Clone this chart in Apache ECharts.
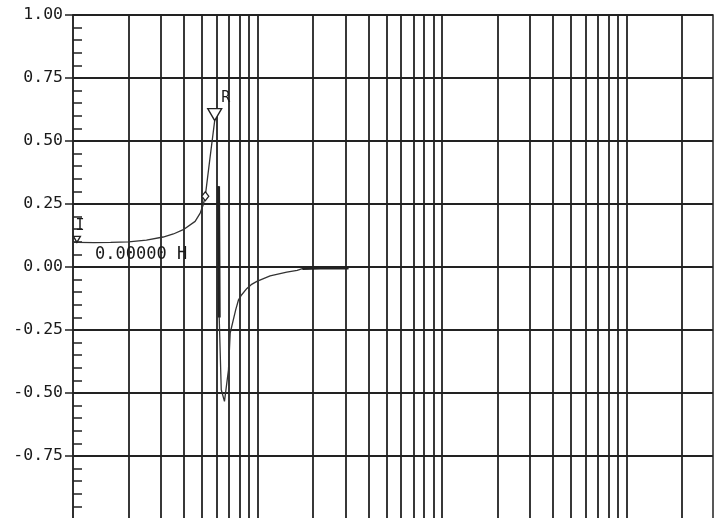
<!DOCTYPE html>
<html>
<head>
<meta charset="utf-8">
<script src="https://cdn.jsdelivr.net/npm/echarts@6/dist/echarts.min.js"></script>
<style>
  html, body { margin: 0; padding: 0; background: #ffffff; }
  #chart { width: 720px; height: 518px; }
</style>
</head>
<body>
<div id="chart"></div>
<script>
// Sweep response (log frequency axis, linear response axis)
const freq = [1.0, 1.05, 1.3, 1.6, 2.0, 2.5, 3.08, 3.5, 3.96, 4.59, 4.89, 5.08, 5.21, 5.54, 5.86,
              6.0,
              6.15, 6.2, 6.36, 6.62, 6.96, 7.11, 7.62, 7.89, 8.21, 8.76, 9.24, 9.92, 11.7, 14.4, 16.4, 17.5, 22.0, 31.1];
const resp = [0.098, 0.098, 0.097, 0.098, 0.100, 0.107, 0.119, 0.131, 0.148, 0.181, 0.214, 0.247, 0.281, 0.439, 0.581,
              null,
              0.32, -0.20, -0.487, -0.533, -0.408, -0.262, -0.169, -0.130, -0.110, -0.085, -0.070, -0.057, -0.035, -0.020, -0.013, -0.006, -0.004, -0.004];

// Stretches of the sweep that were traced more than once (drawn heavier)
const heavyRanges = [[6.15, 6.2], [17.5, 31.1]];

// Markers placed on sweep points
const markerNames = ['I', 'R', ''];
const markerFreq = [1.05, 5.86, 5.21];
const markerKind = ['tri-small', 'tri', 'diamond'];

// Axis ranges and tick labels
const xMin = 1, xMax = 2940;
const yTicks = ['-1.00', '-0.75', '-0.50', '-0.25', '0.00', '0.25', '0.50', '0.75', '1.00'];
const decades = [1, 10, 100, 1000];
const mantissas = [1, 2, 3, 4, 5, 6, 7, 8, 9];

// Readout text
const readout = '0.00000 H';

const INK = '#222222';
const MONO = '"DejaVu Sans Mono", "Liberation Mono", monospace';

const curveData = freq.map((f, i) => [f, resp[i] === null ? '-' : resp[i]]);

const heavyData = [];
heavyRanges.forEach(([a, b], k) => {
  if (k > 0) heavyData.push([(heavyRanges[k - 1][1] + a) / 2, '-']);
  freq.forEach((f, i) => { if (f >= a && f <= b && resp[i] !== null) heavyData.push([f, resp[i]]); });
});

const gridFreqs = [];
decades.forEach(d => mantissas.forEach(m => {
  const v = d * m;
  if (v > xMin && v < xMax) gridFreqs.push(v);
}));

const TRI = 'path://M0,0 L14,0 L7,12 Z';
const markerData = markerFreq.map((f, i) => {
  const v = resp[freq.indexOf(f)];
  const kind = markerKind[i];
  const item = { name: markerNames[i], value: [f, v] };
  if (kind === 'tri') {
    item.symbol = TRI; item.symbolSize = [14, 12]; item.symbolOffset = [0, -6];
    item.label = { show: true, position: 'top', offset: [11, 1] };
  } else if (kind === 'tri-small') {
    item.symbol = TRI; item.symbolSize = [7, 6]; item.symbolOffset = [0, -3];
    item.label = { show: true, position: 'top', offset: [3, 1] };
  } else {
    item.symbol = 'diamond'; item.symbolSize = [7, 9];
    item.label = { show: false };
  }
  return item;
});

const chart = echarts.init(document.getElementById('chart'), null, { renderer: 'canvas' });

chart.setOption({
  animation: false,
  backgroundColor: '#ffffff',
  grid: {
    left: 73, top: 15, width: 640, height: 504,
    containLabel: false, outerBoundsMode: 'none',
    show: true, borderColor: INK, borderWidth: 1.5, backgroundColor: 'transparent'
  },
  xAxis: {
    type: 'log', logBase: 10, min: xMin, max: xMax,
    axisLine: { show: false }, axisTick: { show: false },
    axisLabel: { show: false }, splitLine: { show: false }
  },
  yAxis: [
    {
      type: 'value', min: -1, max: 1, interval: 0.25, position: 'left',
      axisLine: { show: true, lineStyle: { color: INK, width: 1.5 } },
      axisTick: { show: true, inside: false, length: 8, lineStyle: { color: INK, width: 1.5 } },
      axisLabel: {
        margin: 10, color: '#1a1a1a', fontFamily: MONO, fontSize: 16.5,
        showMinLabel: false,
        formatter: v => yTicks[Math.round((v + 1) / 0.25)]
      },
      splitLine: { show: true, lineStyle: { color: INK, width: 1.8 } }
    },
    {
      type: 'value', min: -1, max: 1, interval: 0.05, position: 'left', offset: 0,
      axisLine: { show: false },
      axisTick: { show: true, inside: true, length: 9, lineStyle: { color: INK, width: 1.5 } },
      axisLabel: { show: false },
      splitLine: { show: false }
    }
  ],
  graphic: [{
    type: 'text', left: 95, top: 246, z: 10,
    style: { text: readout, fill: '#1a1a1a', font: '17px ' + MONO }
  }],
  series: [
    {
      name: 'grid', type: 'line', data: [], silent: true,
      markLine: {
        silent: true, symbol: ['none', 'none'], animation: false,
        label: { show: false },
        lineStyle: { color: INK, width: 1.8, type: 'solid' },
        data: gridFreqs.map(f => ({ xAxis: f }))
      }
    },
    {
      name: 'response', type: 'line', data: curveData, showSymbol: false,
      connectNulls: false, z: 5,
      lineStyle: { color: '#333', width: 1.3 }
    },
    {
      name: 'response-heavy', type: 'line', data: heavyData, showSymbol: false,
      connectNulls: false, z: 5,
      lineStyle: { color: '#222', width: 3 }
    },
    {
      name: 'markers', type: 'scatter', data: markerData, z: 6,
      itemStyle: { color: '#ffffff', borderColor: '#222', borderWidth: 1.3, opacity: 1 },
      label: { color: '#1a1a1a', fontFamily: MONO, fontSize: 15, formatter: p => p.name, distance: 3 }
    }
  ]
});
</script>
</body>
</html>
